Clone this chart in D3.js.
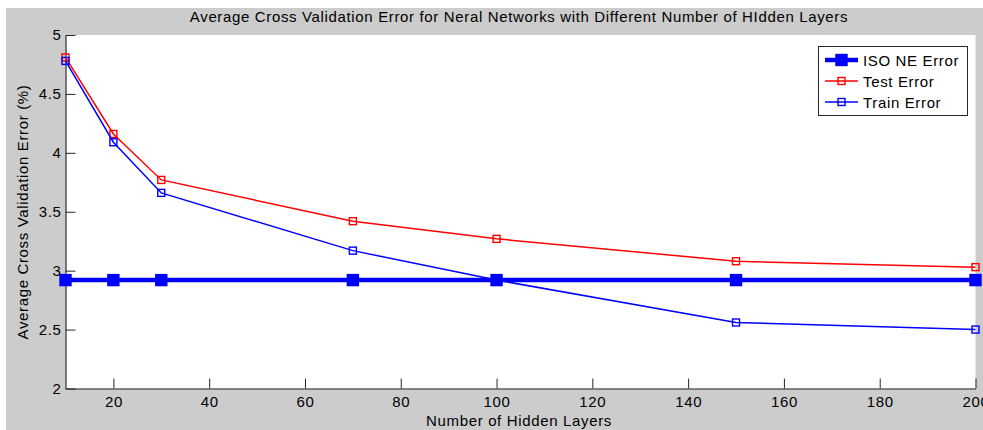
<!DOCTYPE html>
<html>
<head>
<meta charset="utf-8">
<script src="https://cdn.jsdelivr.net/npm/d3@7"></script>
<style>
html,body{margin:0;padding:0;background:#fff;}
svg{display:block;font-family:"Liberation Sans",Arial,sans-serif;}
svg text{letter-spacing:0.65px;}
</style>
</head>
<body>
<svg id="chart" width="983" height="430"></svg>
<script>
const hiddenLayers = [10, 20, 30, 70, 100, 150, 200];
const isoNeError = [2.92, 2.92, 2.92, 2.92, 2.92, 2.92, 2.92];
const testError = [4.81, 4.16, 3.77, 3.42, 3.27, 3.08, 3.03];
const trainError = [4.78, 4.09, 3.66, 3.17, 2.92, 2.56, 2.50];
const xTicks = [20, 40, 60, 80, 100, 120, 140, 160, 180, 200];
const yTicks = [2, 2.5, 3, 3.5, 4, 4.5, 5];
const yTickLabels = ["2", "2.5", "3", "3.5", "4", "4.5", "5"];
const seriesNames = ["ISO NE Error", "Test Error", "Train Error"];

const svg = d3.select("#chart");
const W = 983, H = 430;
const plot = {left: 65.5, right: 975.5, top: 35, bottom: 388.5};
const FS = 15;

svg.append("rect").attr("x", 6).attr("y", 8).attr("width", W - 6).attr("height", H - 8).attr("fill", "#cccccc");
svg.append("rect").attr("x", plot.left).attr("y", plot.top)
  .attr("width", plot.right - plot.left).attr("height", plot.bottom - plot.top).attr("fill", "#fff");

const x = d3.scaleLinear().domain([10, 200]).range([plot.left, plot.right]);
const y = d3.scaleLinear().domain([2, 5]).range([plot.bottom, plot.top]);

// axes
const xAxis = d3.axisBottom(x).tickValues(xTicks).tickSizeInner(-10).tickSizeOuter(0).tickPadding(8).tickFormat(d3.format("d"));
const gx = svg.append("g").attr("transform", `translate(0,${plot.bottom})`).call(xAxis);
gx.select(".domain").attr("stroke", "#262626").attr("stroke-width", 1.2);
gx.selectAll(".tick line").attr("stroke", "#262626");
gx.selectAll(".tick text").attr("font-size", FS).attr("fill", "#000").attr("dy", "0.71em").attr("y", 8);

const yAxis = d3.axisLeft(y).tickValues(yTicks).tickSizeInner(-10).tickSizeOuter(0).tickPadding(5)
  .tickFormat((d, i) => yTickLabels[i]);
const gy = svg.append("g").attr("transform", `translate(${plot.left},0)`).call(yAxis);
gy.select(".domain").attr("stroke", "#262626").attr("stroke-width", 1.2);
gy.selectAll(".tick line").attr("stroke", "#262626");
gy.selectAll(".tick text").attr("font-size", FS).attr("fill", "#000").attr("x", -4);

// lines
const pts = vals => hiddenLayers.map((h, i) => [h, vals[i]]);
const line = d3.line().x(d => x(d[0])).y(d => y(d[1]));

function drawSeries(vals, color, lw, ms, filled) {
  const g = svg.append("g");
  g.append("path").datum(pts(vals)).attr("d", line).attr("fill", "none")
    .attr("stroke", color).attr("stroke-width", lw);
  g.selectAll("rect").data(pts(vals)).join("rect")
    .attr("x", d => x(d[0]) - ms / 2).attr("y", d => y(d[1]) - ms / 2)
    .attr("width", ms).attr("height", ms)
    .attr("fill", filled ? color : "none").attr("stroke", color).attr("stroke-width", 1.4);
}
drawSeries(isoNeError, "#0000ff", 4.5, 11, true);
drawSeries(testError, "#ff0000", 1.5, 7, false);
drawSeries(trainError, "#0000ff", 1.5, 7, false);

// title & labels
svg.append("text").attr("x", 519).attr("y", 22).attr("text-anchor", "middle")
  .attr("font-size", FS).attr("fill", "#000")
  .text("Average Cross Validation Error for Neral Networks with Different Number of HIdden Layers");
svg.append("text").attr("x", 519).attr("y", 426).attr("text-anchor", "middle")
  .attr("font-size", FS).attr("fill", "#000").text("Number of Hidden Layers");
svg.append("text").attr("transform", "translate(28,212) rotate(-90)").attr("text-anchor", "middle")
  .attr("font-size", FS).attr("fill", "#000").text("Average Cross Validation Error (%)");

// legend
const lg = svg.append("g");
lg.append("rect").attr("x", 818.5).attr("y", 46.5).attr("width", 149).attr("height", 69)
  .attr("fill", "#fff").attr("stroke", "#262626").attr("stroke-width", 1);
const legendStyles = [
  {color: "#0000ff", lw: 4.5, ms: 11, filled: true},
  {color: "#ff0000", lw: 1.5, ms: 7, filled: false},
  {color: "#0000ff", lw: 1.5, ms: 7, filled: false}
];
seriesNames.forEach((name, i) => {
  const cy = 60 + i * 21;
  const s = legendStyles[i];
  lg.append("line").attr("x1", 825).attr("x2", 858).attr("y1", cy).attr("y2", cy)
    .attr("stroke", s.color).attr("stroke-width", s.lw);
  lg.append("rect").attr("x", 841.5 - s.ms / 2).attr("y", cy - s.ms / 2).attr("width", s.ms).attr("height", s.ms)
    .attr("fill", s.filled ? s.color : "none").attr("stroke", s.color).attr("stroke-width", 1.4);
  lg.append("text").attr("x", 863).attr("y", cy + 5.5).attr("font-size", FS).attr("fill", "#000").text(name);
});
</script>
</body>
</html>
